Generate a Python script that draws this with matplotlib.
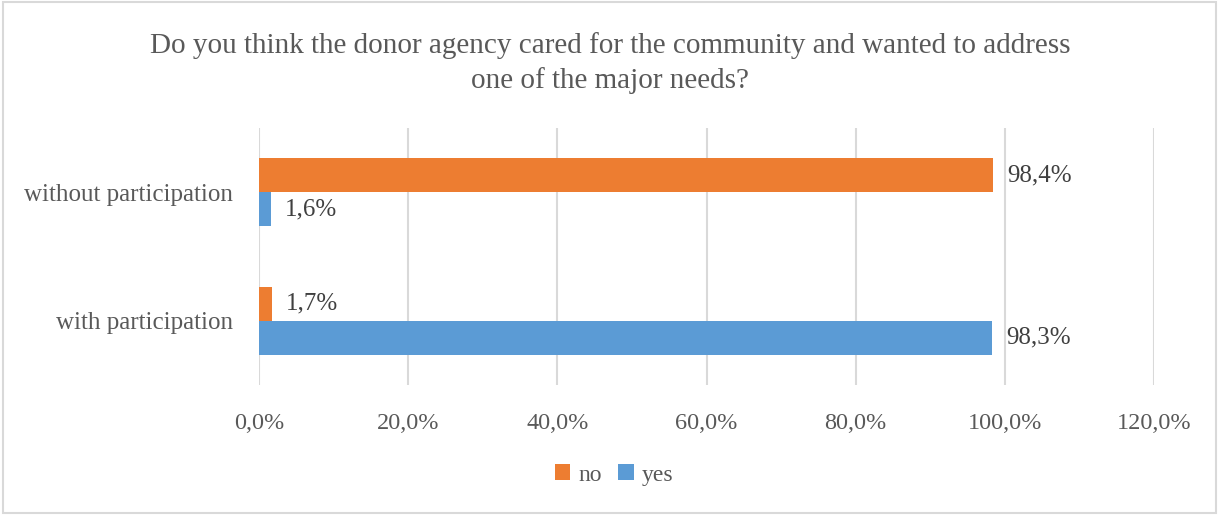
import numpy as np
import matplotlib.pyplot as plt

plt.rcParams['font.family'] = ['Liberation Serif', 'DejaVu Serif']

categories = ['with participation', 'without participation']
no_vals = [1.7, 98.4]
yes_vals = [98.3, 1.6]
xticks = [0, 20, 40, 60, 80, 100, 120]

c_no = '#ED7D31'
c_yes = '#5B9BD5'
txt = '#595959'

fig = plt.figure(figsize=(12.2, 5.15), dpi=100)
ax = fig.add_axes([259 / 1220, 1 - 385 / 515, (1154 - 259) / 1220, (385 - 128) / 515])

y = np.arange(len(categories))
h = 0.264
b_no = ax.barh(y + h / 2, no_vals, height=h, color=c_no, label='no', zorder=3)
b_yes = ax.barh(y - h / 2, yes_vals, height=h, color=c_yes, label='yes', zorder=3)

for bars, vals in ((b_no, no_vals), (b_yes, yes_vals)):
    for bar, v in zip(bars, vals):
        ax.annotate(f'{v:.1f}%'.replace('.', ','),
                    (v, bar.get_y() + bar.get_height() / 2),
                    xytext=(10, 0), textcoords='offset points',
                    ha='left', va='center', fontsize=18, color='#404040')

ax.set_xlim(0, 120)
ax.set_ylim(-0.5, 1.5)
ax.set_xticks(xticks)
ax.set_xticklabels([f'{t:.1f}%'.replace('.', ',') for t in xticks])
ax.set_yticks(y)
ax.set_yticklabels(categories, fontsize=18)
ax.tick_params(axis='both', length=0, labelcolor=txt)
ax.tick_params(axis='x', labelsize=17.5, pad=20)
ax.tick_params(axis='y', pad=19)
ax.grid(axis='x', color='#d9d9d9', linewidth=1.5, zorder=0)
for s in ax.spines.values():
    s.set_visible(False)

fig.text(0.5, 1 - 63 / 515,
         'Do you think the donor agency cared for the community and wanted to address\none of the major needs?',
         ha='center', va='center', fontsize=21, color=txt, linespacing=1.35)

fig.legend(handles=[b_no, b_yes], loc='center', bbox_to_anchor=(614 / 1220, 1 - 475 / 515),
           ncol=2, frameon=False, fontsize=17, labelcolor=txt,
           handlelength=0.65, handleheight=0.65, handletextpad=0.35, columnspacing=0.7)

# light frame around the whole chart
fig.patches.append(plt.Rectangle((3 / 1220, 2 / 515), 1213 / 1220, 511 / 515,
                                 transform=fig.transFigure, fill=False,
                                 edgecolor='#d9d9d9', linewidth=1.5))

fig.savefig('out.png', dpi=100)
